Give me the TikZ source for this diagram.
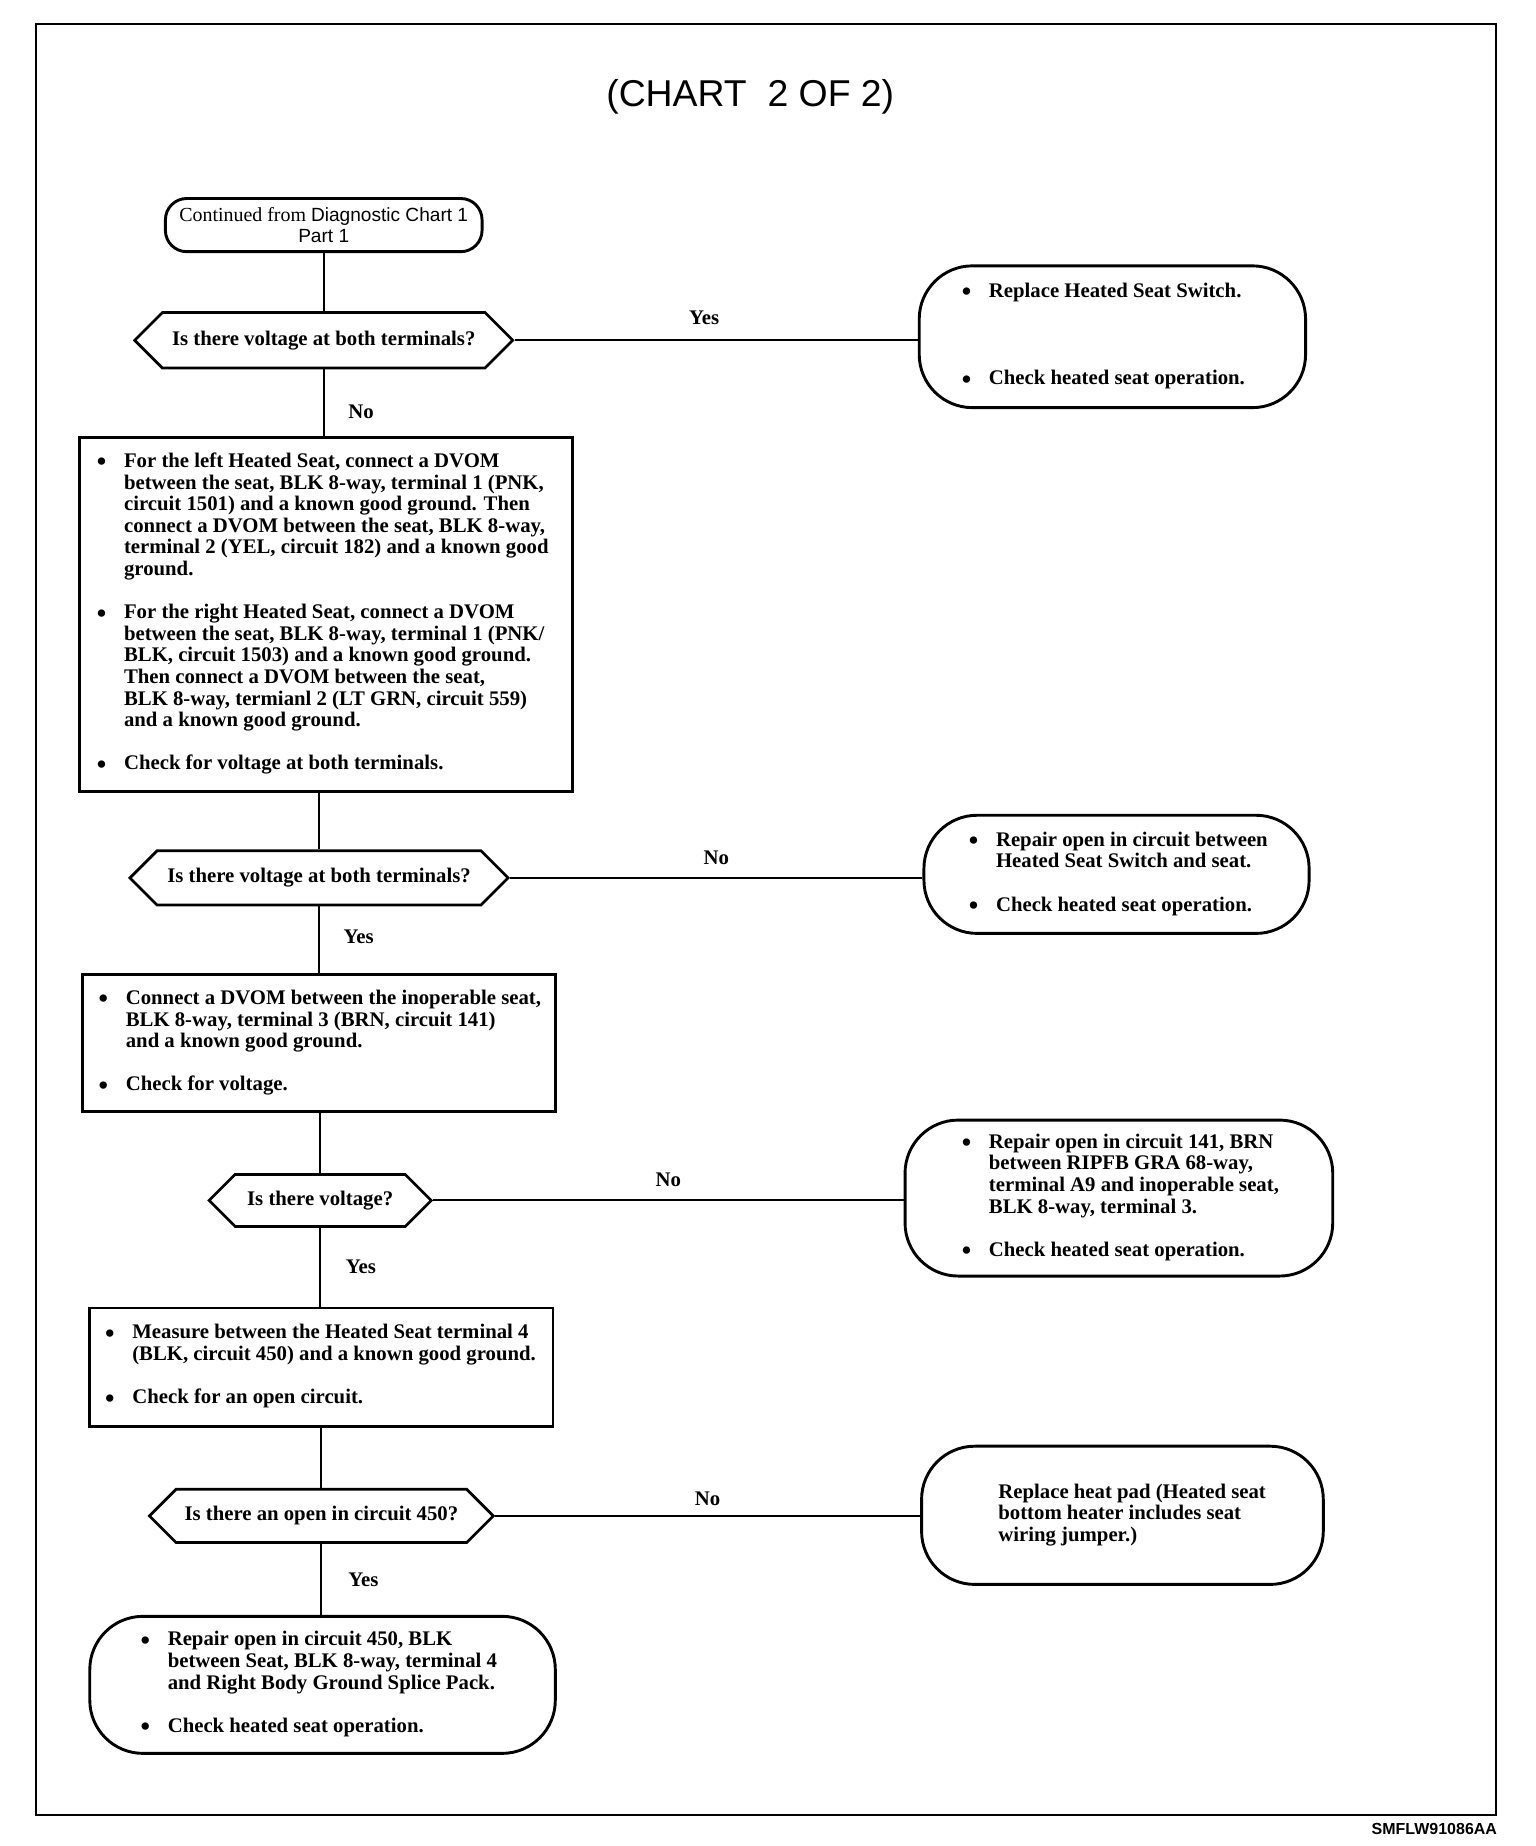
\documentclass[tikz,border=0pt]{standalone}
\usepackage{fontspec}
\setmainfont{Liberation Serif}
\setsansfont{Liberation Sans}
\usetikzlibrary{shapes.symbols}

\newlength{\px}\setlength{\px}{0.02cm}
% bullet mark and left-aligned block of lines of fixed width
\newcommand{\bl}{\makebox[23\px][l]{\raisebox{-1.6pt}{\fontsize{13}{10}\selectfont\textbullet}}}
\newcommand{\blist}[2]{\makebox[#1\px][l]{\begin{tabular}{@{}l@{}l@{}}#2\end{tabular}}}

\tikzset{
  txt/.style={font=\bfseries\fontsize{10}{10.4}\selectfont},
  stepbox/.style={txt, draw, line width=1.4pt, rectangle, inner sep=0pt},
  endbox/.style={txt, draw, line width=1.4pt, rectangle, rounded corners=45\px, inner sep=0pt},
  startbox/.style={draw, line width=1.4pt, rectangle, rounded corners=18\px, align=center, inner sep=0pt},
  decision/.style={txt, draw, line width=1.3pt, signal, signal to=west and east, signal pointer angle=90, inner sep=0pt},
  link/.style={line width=0.95pt},
  answer/.style={font=\bfseries\fontsize{10}{12}\selectfont, inner sep=0pt}
}

\begin{document}
\begin{tikzpicture}[x=0.02cm, y=-0.02cm]
\useasboundingbox (0,0) rectangle (1300,1562.4);
\draw[line width=1pt] (30.5,20) rectangle (1266,1536);

\node[font=\sffamily\fontsize{18}{20}\selectfont] (title) at (635,82) {(CHART\ \ 2 OF 2)};

% left column
\node[startbox, minimum width=268\px, minimum height=45\px] (cont) at (274,190.5)
  {{\fontsize{9.6}{10.2}\selectfont Continued from }{\sffamily\fontsize{9.2}{10.2}\selectfont Diagnostic Chart 1}\\[-1.5pt]
   {\sffamily\fontsize{9.2}{10.2}\selectfont Part 1}};
\node[decision, minimum width=320\px, minimum height=47\px] (d1) at (274,288) {Is there voltage at both terminals?};
\node[stepbox, minimum width=417\px, minimum height=300\px] (b1) at (276,520)
  {\blist{388}{\bl & For the left Heated Seat, connect a DVOM\\
   & between the seat, BLK 8-way, terminal 1 (PNK,\\
   & circuit 1501) and a known good ground. Then\\
   & connect a DVOM between the seat, BLK 8-way,\\
   & terminal 2 (YEL, circuit 182) and a known good\\
   & ground.\\[18.3\px]
   \bl & For the right Heated Seat, connect a DVOM\\
   & between the seat, BLK 8-way, terminal 1 (PNK/\\
   & BLK, circuit 1503) and a known good ground.\\
   & Then connect a DVOM between the seat,\\
   & BLK 8-way, termianl 2 (LT GRN, circuit 559)\\
   & and a known good ground.\\[18.3\px]
   \bl & Check for voltage at both terminals.}};
\node[decision, minimum width=320\px, minimum height=46\px] (d2) at (270,743) {Is there voltage at both terminals?};
\node[stepbox, minimum width=401\px, minimum height=116\px] (b2) at (270,883)
  {\blist{373}{\bl & Connect a DVOM between the inoperable seat,\\
   & BLK 8-way, terminal 3 (BRN, circuit 141)\\
   & and a known good ground.\\[18.3\px]
   \bl & Check for voltage.}};
\node[decision, minimum width=188\px, minimum height=44\px] (d3) at (271,1016) {Is there voltage?};
\node[stepbox, minimum width=392\px, minimum height=100\px] (b3) at (272,1157)
  {\blist{366}{\bl & Measure between the Heated Seat terminal 4\\
   & (BLK, circuit 450) and a known good ground.\\[18.3\px]
   \bl & Check for an open circuit.}};
\node[decision, minimum width=291\px, minimum height=45\px] (d4) at (272,1283) {Is there an open in circuit 450?};
\node[endbox, minimum width=394\px, minimum height=116\px] (r5) at (273,1426)
  {\blist{308}{\bl & Repair open in circuit 450, BLK\\
   & between Seat, BLK 8-way, terminal 4\\
   & and Right Body Ground Splice Pack.\\[18.3\px]
   \bl & Check heated seat operation.}};

% right column
\node[endbox, minimum width=327\px, minimum height=120\px] (r1) at (941.5,285)
  {\blist{255}{\bl & Replace Heated Seat Switch.\\[55.7\px]
   \bl & Check heated seat operation.}};
\node[endbox, minimum width=326\px, minimum height=100\px] (r2) at (945,740)
  {\blist{250}{\bl & Repair open in circuit between\\
   & Heated Seat Switch and seat.\\[18.3\px]
   \bl & Check heated seat operation.}};
\node[endbox, minimum width=362\px, minimum height=132\px] (r3) at (947,1014)
  {\blist{266}{\bl & Repair open in circuit 141, BRN\\
   & between RIPFB GRA 68-way,\\
   & terminal A9 and inoperable seat,\\
   & BLK 8-way, terminal 3.\\[18.3\px]
   \bl & Check heated seat operation.}};
\node[endbox, minimum width=340\px, minimum height=117\px] (r4) at (950,1282.5)
  {\blist{210}{& Replace heat pad (Heated seat\\
   & bottom heater includes seat\\
   & wiring jumper.)}};

\node[font=\sffamily\bfseries\fontsize{7.7}{9}\selectfont, inner sep=0pt] (code) at (1214,1548) {SMFLW91086AA};

% connectors
\draw[link] (cont.south) -- (cont.south |- d1.north);
\draw[link] (d1.east) -- node[answer, above=12\px, pos=0.47] {Yes} (d1.east -| r1.west);
\draw[link] (d1.south) -- node[answer, right=20\px, pos=0.64] {No} (d1.south |- b1.north);
\draw[link] (b1.south -| d2.north) -- (d2.north);
\draw[link] (d2.east) -- node[answer, above=10\px] {No} (d2.east -| r2.west);
\draw[link] (d2.south) -- node[answer, right=20\px, pos=0.45] {Yes} (d2.south |- b2.north);
\draw[link] (b2.south -| d3.north) -- (d3.north);
\draw[link] (d3.east) -- node[answer, above=11\px] {No} (d3.east -| r3.west);
\draw[link] (d3.south) -- node[answer, right=21\px] {Yes} (d3.south |- b3.north);
\draw[link] (b3.south -| d4.north) -- (d4.north);
\draw[link] (d4.east) -- node[answer, above=8\px] {No} (d4.east -| r4.west);
\draw[link] (d4.south) -- node[answer, right=22\px] {Yes} (d4.south |- r5.north);
\end{tikzpicture}
\end{document}
